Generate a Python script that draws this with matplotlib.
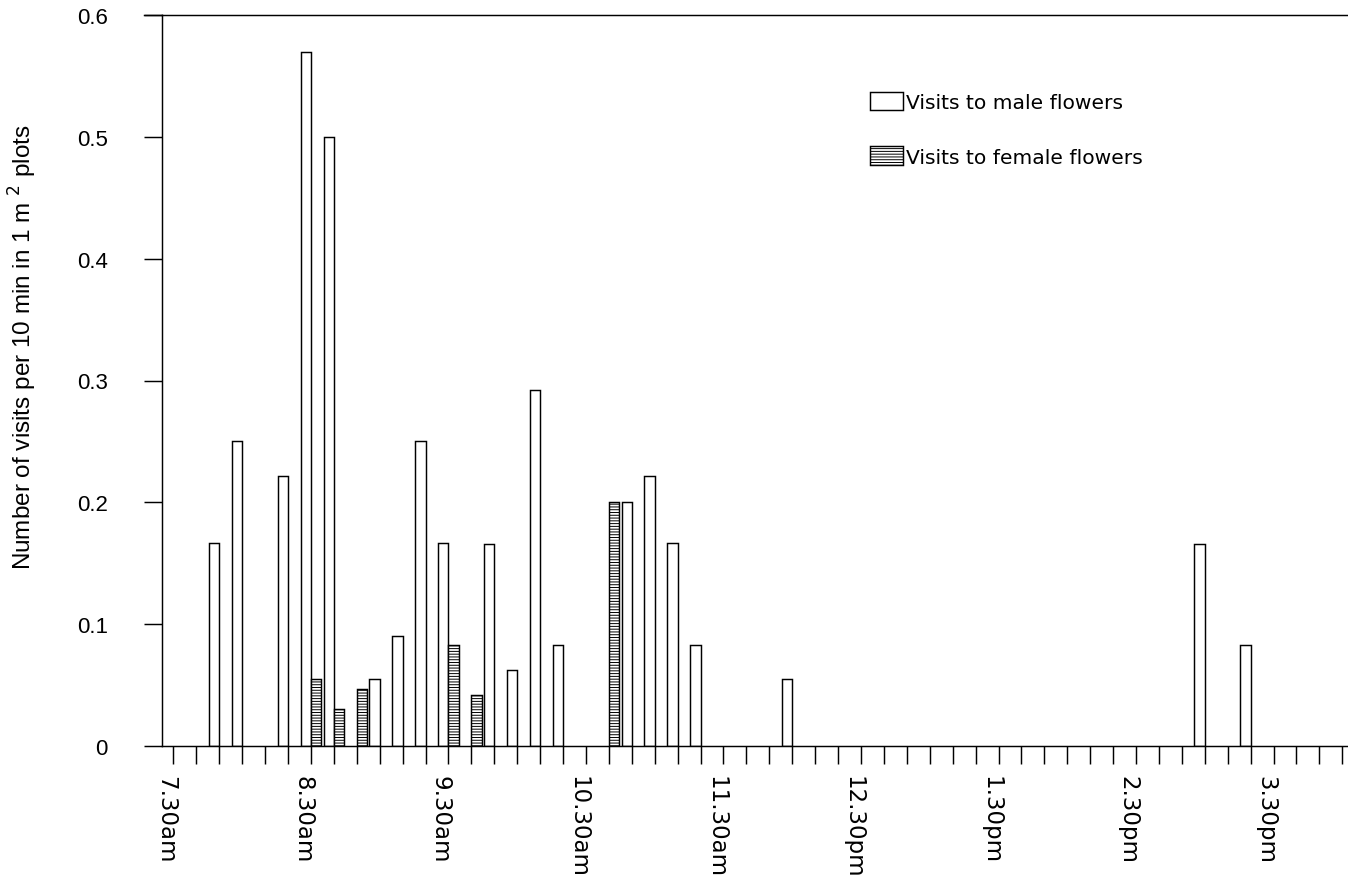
import numpy as np
import matplotlib
matplotlib.use("Agg")
import matplotlib.pyplot as plt
import matplotlib.transforms as mtransforms
from matplotlib import font_manager

plt.rcParams['font.family'] = ['Liberation Sans', 'DejaVu Sans']
plt.rcParams['hatch.linewidth'] = 0.7

# 10-minute slots from 7.30am (slot 0) to 4.00pm (slot 51)
n_slots = 52
tick_labels = ["7.30am", "8.30am", "9.30am", "10.30am", "11.30am",
               "12.30pm", "1.30pm", "2.30pm", "3.30pm"]

# visits per slot (slot index: value)
male_slots = [2, 3, 5, 6, 7, 9, 10, 11, 12, 14, 15, 16, 17, 20, 21, 22, 23, 27, 45, 47]
male_vals = [0.167, 0.25, 0.222, 0.57, 0.5, 0.055, 0.09, 0.25, 0.167, 0.166,
             0.062, 0.292, 0.083, 0.2, 0.222, 0.167, 0.083, 0.055, 0.166, 0.083]
female_slots = [6, 7, 8, 12, 13, 19]
female_vals = [0.055, 0.03, 0.047, 0.083, 0.042, 0.2]

# narrow font for the y label if there is one
try:
    font_manager.findfont(font_manager.FontProperties(family='Liberation Sans Narrow'),
                          fallback_to_default=False)
    ylab_font, ylab_size = ['Liberation Sans Narrow', 'DejaVu Sans'], 21
except ValueError:
    ylab_font, ylab_size = ['Liberation Sans', 'DejaVu Sans'], 17.5

W, H = 1348, 879
fig = plt.figure(figsize=(W / 100, H / 100), dpi=100)
ax = fig.add_axes([162 / W, (H - 747) / H, 1 - 162 / W, (747 - 16) / H])

bw = 0.45
lw = 1.05
ax.bar(np.array(male_slots) - bw / 2, male_vals, width=bw, facecolor='white',
       edgecolor='black', linewidth=lw, label='Visits to male flowers')
ax.bar(np.array(female_slots) + bw / 2, female_vals, width=bw, facecolor='white',
       edgecolor='black', linewidth=lw, hatch='------',
       label='Visits to female flowers')

ax.set_xlim(-0.5, 51.25)
ax.set_ylim(0, 0.6)

ax.set_xticks(np.arange(n_slots))
labels = [''] * n_slots
for k, t in enumerate(tick_labels):
    labels[k * 6] = t
ax.set_xticklabels(labels, rotation=-90, ha='center', va='top',
                   family=['DejaVu Sans'], fontsize=16.5)
ax.set_yticks(np.arange(0, 0.61, 0.1))
ax.set_yticklabels(['0', '0.1', '0.2', '0.3', '0.4', '0.5', '0.6'], fontsize=16)

ax.tick_params(axis='x', length=13, width=lw, pad=8)
ax.tick_params(axis='y', length=13, width=lw, pad=26)

# tick_params resets label transforms, so shift the x labels afterwards
shift = mtransforms.ScaledTranslation(-8 / 100, 0, fig.dpi_scale_trans)
for tick in ax.xaxis.get_major_ticks():
    tick.label1.set_transform(tick.label1.get_transform() + shift)

for s in ['left', 'bottom', 'top']:
    ax.spines[s].set_linewidth(lw)
ax.spines['right'].set_visible(False)
# top line runs out to the 0.6 tick
ax.plot([-0.5 - 18 / 22.92, -0.5], [0.6, 0.6], color='black', lw=lw,
        clip_on=False)

ax.set_ylabel("Number of visits per 10 min in 1 m $^2$ plots",
              family=ylab_font, fontsize=ylab_size)
ax.yaxis.set_label_coords(-0.1037, 0.547)

ax.legend(loc='upper left', bbox_to_anchor=(0.597, 0.895), frameon=False,
          prop={'family': 'DejaVu Sans', 'size': 14.6}, handlelength=1.63,
          handleheight=1.03, handletextpad=0.15, labelspacing=1.7,
          borderpad=0, borderaxespad=0)

fig.savefig("out.png", dpi=100)
